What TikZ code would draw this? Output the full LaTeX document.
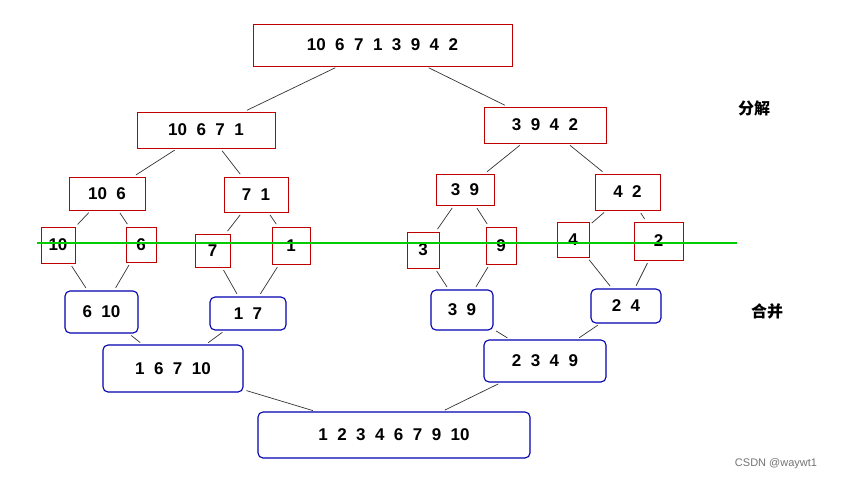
\documentclass[tikz,border=0pt]{standalone}
\usepackage{fontspec}
\setmainfont{Liberation Sans}
\newfontfamily\cjk{Noto Sans CJK SC}
\usetikzlibrary{positioning}

\begin{document}
\begin{tikzpicture}[x=1pt, y=-1pt,
  num/.style={inner sep=0pt, align=center, font={\bfseries\fontsize{17}{20}\selectfont}},
  rbox/.style={num, draw=red!75!black, line width=0.9pt},
  bbox/.style={num, draw=blue!70!black, line width=1.1pt, rounded corners=5pt},
  link/.style={black!80, line width=0.7pt, shorten >=3pt, shorten <=3pt},
]
\useasboundingbox (0,0) rectangle (859,483);

%Split nodes
\node [rbox, minimum width=259pt, minimum height=42pt] (all) at (382.5,45) {10~ 6~ 7~ 1~ 3~ 9~ 4~ 2};
\node [rbox, minimum width=138pt, minimum height=36pt] (la) at (206,130) {10~ 6~ 7~ 1};
\node [rbox, minimum width=122pt, minimum height=36pt] (ra) at (545,125) {3~ 9~ 4~ 2};
\node [rbox, minimum width=76pt, minimum height=33pt] (qa) at (107,193.5) {10~ 6};
\node [rbox, minimum width=64pt, minimum height=35pt] (qb) at (256,194.5) {7~ 1};
\node [rbox, minimum width=58pt, minimum height=31pt] (qc) at (465,189.5) {3~ 9};
\node [rbox, minimum width=65pt, minimum height=36pt] (qd) at (627.5,192) {4~ 2};
\node [rbox, minimum width=34pt, minimum height=36pt] (s1) at (58,245) {10};
\node [rbox, minimum width=30pt, minimum height=35pt] (s2) at (141,244.5) {6};
\node [rbox, minimum width=35pt, minimum height=33pt] (s3) at (212.5,250.5) {7};
\node [rbox, minimum width=38pt, minimum height=37pt] (s4) at (291,245.5) {1};
\node [rbox, minimum width=32pt, minimum height=36pt] (s5) at (423,250) {3};
\node [rbox, minimum width=30pt, minimum height=37pt] (s6) at (501,245.5) {9};
\node [rbox, minimum width=32pt, minimum height=35pt] (s7) at (573,239.5) {4};
\node [rbox, minimum width=49pt, minimum height=38pt] (s8) at (658.5,241) {2};

%Merge nodes
\node [bbox, minimum width=73pt, minimum height=42pt] (m1) at (101.5,312) {6~ 10};
\node [bbox, minimum width=76pt, minimum height=33pt] (m2) at (248,313.5) {1~ 7};
\node [bbox, minimum width=62pt, minimum height=40pt] (m3) at (462,310) {3~ 9};
\node [bbox, minimum width=70pt, minimum height=34pt] (m4) at (626,306) {2~ 4};
\node [bbox, minimum width=140pt, minimum height=47pt] (m5) at (173,368.5) {1~ 6~ 7~ 10};
\node [bbox, minimum width=122pt, minimum height=42pt] (m6) at (545,361) {2~ 3~ 4~ 9};
\node [bbox, minimum width=272pt, minimum height=46pt] (fin) at (394,435) {1~ 2~ 3~ 4~ 6~ 7~ 9~ 10};

% Labels
\node [font={\cjk\bfseries\fontsize{16}{18}\selectfont}] (split) at (754,108) {分解};
\node [font={\cjk\bfseries\fontsize{16}{18}\selectfont}] (merge) at (767,311) {合并};
\node [font={\fontsize{11}{13}\selectfont}, text=black!55] (mark) at (776,464) {CSDN @waywt1};

% Paths
\foreach \a/\b in {all/la, all/ra, la/qa, la/qb, ra/qc, ra/qd,
  qa/s1, qa/s2, qb/s3, qb/s4, qc/s5, qc/s6, qd/s7, qd/s8,
  s1/m1, s2/m1, s3/m2, s4/m2, s5/m3, s6/m3, s7/m4, s8/m4,
  m1/m5, m2/m5, m3/m6, m4/m6, m5/fin, m6/fin}
  \draw [link] (\a) -- (\b);

\coordinate (gl) at (37,243);
\coordinate (gr) at (737,243);
\draw [green!80!black, line width=1.2pt] (gl) -- (gr);
\end{tikzpicture}
\end{document}
